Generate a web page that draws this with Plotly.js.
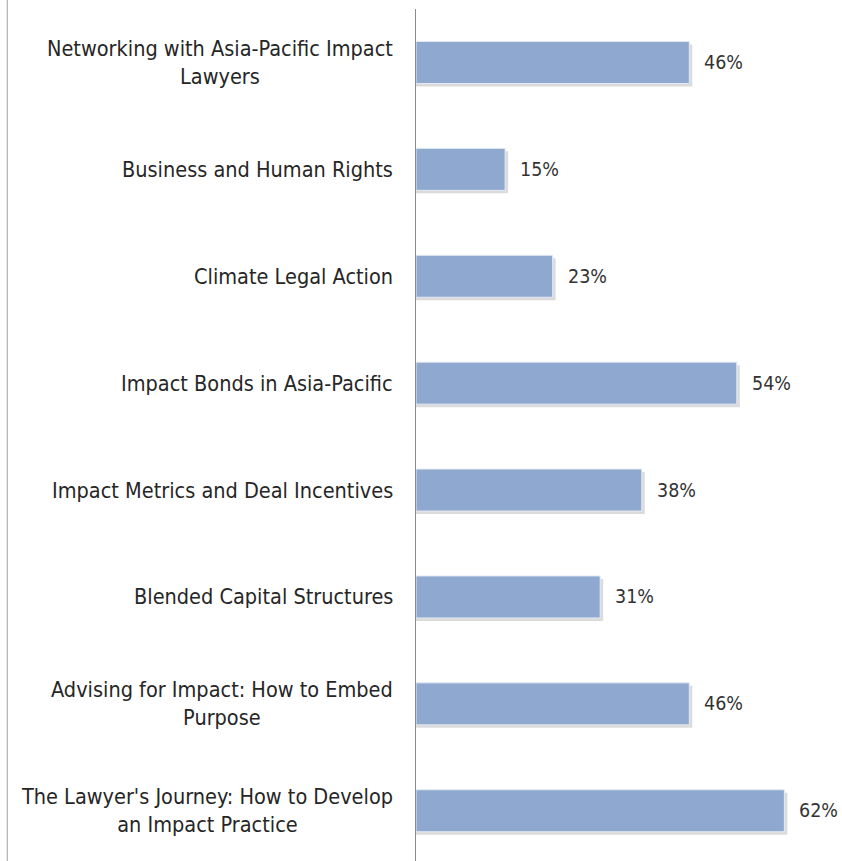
<!DOCTYPE html>
<html>
<head>
<meta charset="utf-8">
<script src="https://cdn.plot.ly/plotly-3.0.1.min.js"></script>
<style>html,body{margin:0;padding:0;background:#fff;}#chart{width:842px;height:861px;}</style>
</head>
<body>
<div id="chart"></div>
<script>
const categories = [
  "Networking with Asia-Pacific Impact<br>Lawyers",
  "Business and Human Rights",
  "Climate Legal Action",
  "Impact Bonds in Asia-Pacific",
  "Impact Metrics and Deal Incentives",
  "Blended Capital Structures",
  "Advising for Impact: How to Embed<br>Purpose",
  "The Lawyer's Journey: How to Develop<br>an Impact Practice"
];
const values = [46, 15, 23, 54, 38, 31, 46, 62];
const valueLabels = ["46%", "15%", "23%", "54%", "38%", "31%", "46%", "62%"];

const FONT = '"DejaVu Sans Condensed", "Liberation Sans Narrow", "Liberation Sans", sans-serif';
const barW = 0.393;
const idx = categories.map((c, i) => i);

const shadow = {
  type: 'bar', orientation: 'h',
  y: idx, x: values.map(v => v + 0.5),
  width: barW, offset: -barW / 2 + 0.028,
  marker: { color: 'rgba(90,90,90,0.22)', line: { width: 0 } },
  hoverinfo: 'skip', showlegend: false
};
const bars = {
  type: 'bar', orientation: 'h',
  y: idx, x: values,
  width: barW, offset: -barW / 2,
  marker: { color: '#8fa8cf', line: { color: '#e4eaf3', width: 1 } },
  showlegend: false
};

const annotations = [];
idx.forEach(i => {
  annotations.push({
    x: 0, xref: 'paper', y: i, yref: 'y',
    xanchor: 'right', yanchor: 'middle', xshift: -21,
    text: categories[i], align: 'center', showarrow: false,
    font: { family: FONT, size: 21.5, color: '#262626' }
  });
  annotations.push({
    x: values[i], xref: 'x', y: i, yref: 'y',
    xanchor: 'left', yanchor: 'middle', xshift: 13,
    text: valueLabels[i], showarrow: false,
    font: { family: FONT, size: 19.5, color: '#333' }
  });
});

const layout = {
  width: 842, height: 861,
  margin: { l: 416, r: 0, t: 9, b: 0 },
  paper_bgcolor: '#fff', plot_bgcolor: '#fff',
  barmode: 'overlay',
  xaxis: { range: [0, 71.7], showgrid: false, zeroline: false, showticklabels: false, showline: false, fixedrange: true },
  yaxis: { range: [7.47, -0.5], showgrid: false, zeroline: false, showticklabels: false,
           showline: true, linecolor: '#8a8a8a', linewidth: 1, ticks: '', fixedrange: true },
  annotations: annotations,
  shapes: [{ type: 'line', xref: 'paper', yref: 'paper', x0: -0.9595, x1: -0.9595, y0: 0, y1: 1.02,
             line: { color: '#a0a0a0', width: 1 } }]
};

Plotly.newPlot('chart', [shadow, bars], layout, { displayModeBar: false, staticPlot: true });
</script>
</body>
</html>
